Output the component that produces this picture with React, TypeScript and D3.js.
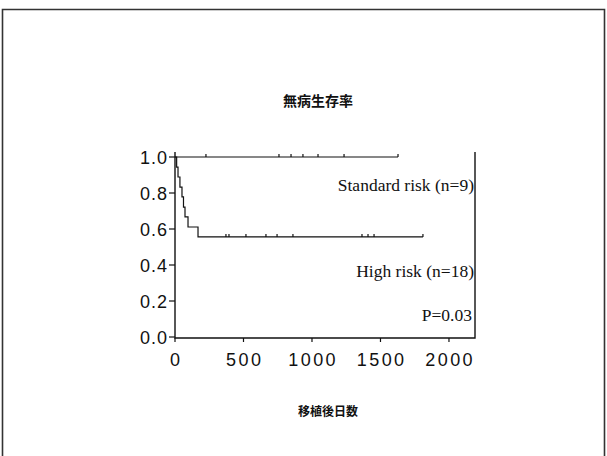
import React from "react";
import * as d3 from "d3";

// Kaplan-Meier data
const standardEnd = 1628;
const standardCensored = [226, 759, 847, 934, 1044, 1234, 1628];

const highEventDays = [12, 22, 36, 51, 62, 73, 95, 168];
const highSurvival = [0.944, 0.889, 0.833, 0.778, 0.722, 0.667, 0.611, 0.556];
const highEnd = 1810;
const highCensored = [372, 394, 518, 664, 745, 861, 1365, 1409, 1453, 1810];

const xTicks = [0, 500, 1000, 1500, 2000];
const yTicks = [0, 0.2, 0.4, 0.6, 0.8, 1.0];

const W = 607;
const H = 456;

const App = () => {
  const x = d3.scaleLinear().domain([0, 2190]).range([175, 475]);
  const y = d3.scaleLinear().domain([0, 1]).range([337, 157]);

  const step = d3
    .line<[number, number]>()
    .x((d) => x(d[0]))
    .y((d) => y(d[1]))
    .curve(d3.curveStepAfter);

  const stdPts: [number, number][] = [
    [0, 1],
    [standardEnd, 1],
  ];
  const highPts: [number, number][] = [[0, 1]];
  highEventDays.forEach((t, i) => highPts.push([t, highSurvival[i]]));
  highPts.push([highEnd, highSurvival[highSurvival.length - 1]]);

  const survAt = (t: number) => {
    let s = 1;
    highEventDays.forEach((e, i) => {
      if (e <= t) s = highSurvival[i];
    });
    return s;
  };

  const ink = "#111";
  const sans = "'Liberation Sans', Arial, sans-serif";
  const serif = "'Liberation Serif', 'Times New Roman', serif";
  const cjk = "'Noto Sans CJK JP', 'Noto Sans CJK SC', sans-serif";

  return (
    <svg
      width={W}
      height={H}
      style={{ position: "absolute", left: 0, top: 0, background: "#fff" }}
    >
      {/* outer frame of the slide */}
      <path
        d={`M2.5,${H} V9.5 H604.5 V${H}`}
        fill="none"
        stroke="#333"
        strokeWidth={1.6}
      />

      <text
        x={318}
        y={106}
        textAnchor="middle"
        fontFamily={cjk}
        fontWeight="bold"
        fontSize={14}
        fill={ink}
      >
        無病生存率
      </text>

      {/* axes */}
      <path
        d={`M${x(0)},152 V${y(0) + 1} H${x(2190)} V152`}
        fill="none"
        stroke={ink}
        strokeWidth={1.4}
      />
      {yTicks.map((t) => (
        <g key={"y" + t}>
          <line x1={x(0) - 6} x2={x(0)} y1={y(t)} y2={y(t)} stroke={ink} strokeWidth={1.2} />
          <text
            x={x(0) - 7}
            y={y(t) + 7}
            textAnchor="end"
            fontFamily={sans}
            fontSize={18}
            letterSpacing={1}
            fill={ink}
          >
            {t.toFixed(1)}
          </text>
        </g>
      ))}
      {xTicks.map((t) => (
        <g key={"x" + t}>
          <line x1={x(t)} x2={x(t)} y1={y(0) + 1} y2={y(0) + 5} stroke={ink} strokeWidth={1.2} />
          <text
            x={x(t) + 1.2}
            y={y(0) + 29}
            textAnchor="middle"
            fontFamily={sans}
            fontSize={18}
            letterSpacing={2.4}
            fill={ink}
          >
            {t}
          </text>
        </g>
      ))}

      {/* curves */}
      <path d={step(stdPts) || ""} fill="none" stroke={ink} strokeWidth={1.2} />
      <path d={step(highPts) || ""} fill="none" stroke={ink} strokeWidth={1.2} />
      {standardCensored.map((t, i) => (
        <line key={"sc" + i} x1={x(t)} x2={x(t)} y1={y(1) - 3} y2={y(1)} stroke={ink} strokeWidth={1.2} />
      ))}
      {highCensored.map((t, i) => (
        <line
          key={"hc" + i}
          x1={x(t)}
          x2={x(t)}
          y1={y(survAt(t)) - 3}
          y2={y(survAt(t))}
          stroke={ink}
          strokeWidth={1.2}
        />
      ))}

      {/* annotations */}
      <text x={474} y={191} textAnchor="end" fontFamily={serif} fontSize={17.5} fill={ink}>
        Standard risk (n=9)
      </text>
      <text x={474} y={277} textAnchor="end" fontFamily={serif} fontSize={17.5} fill={ink}>
        High risk (n=18)
      </text>
      <text x={472} y={321} textAnchor="end" fontFamily={serif} fontSize={17.5} fill={ink}>
        P=0.03
      </text>

      <text
        x={328}
        y={416}
        textAnchor="middle"
        fontFamily={cjk}
        fontWeight="bold"
        fontSize={12}
        fill={ink}
      >
        移植後日数
      </text>
    </svg>
  );
};

export default App;
